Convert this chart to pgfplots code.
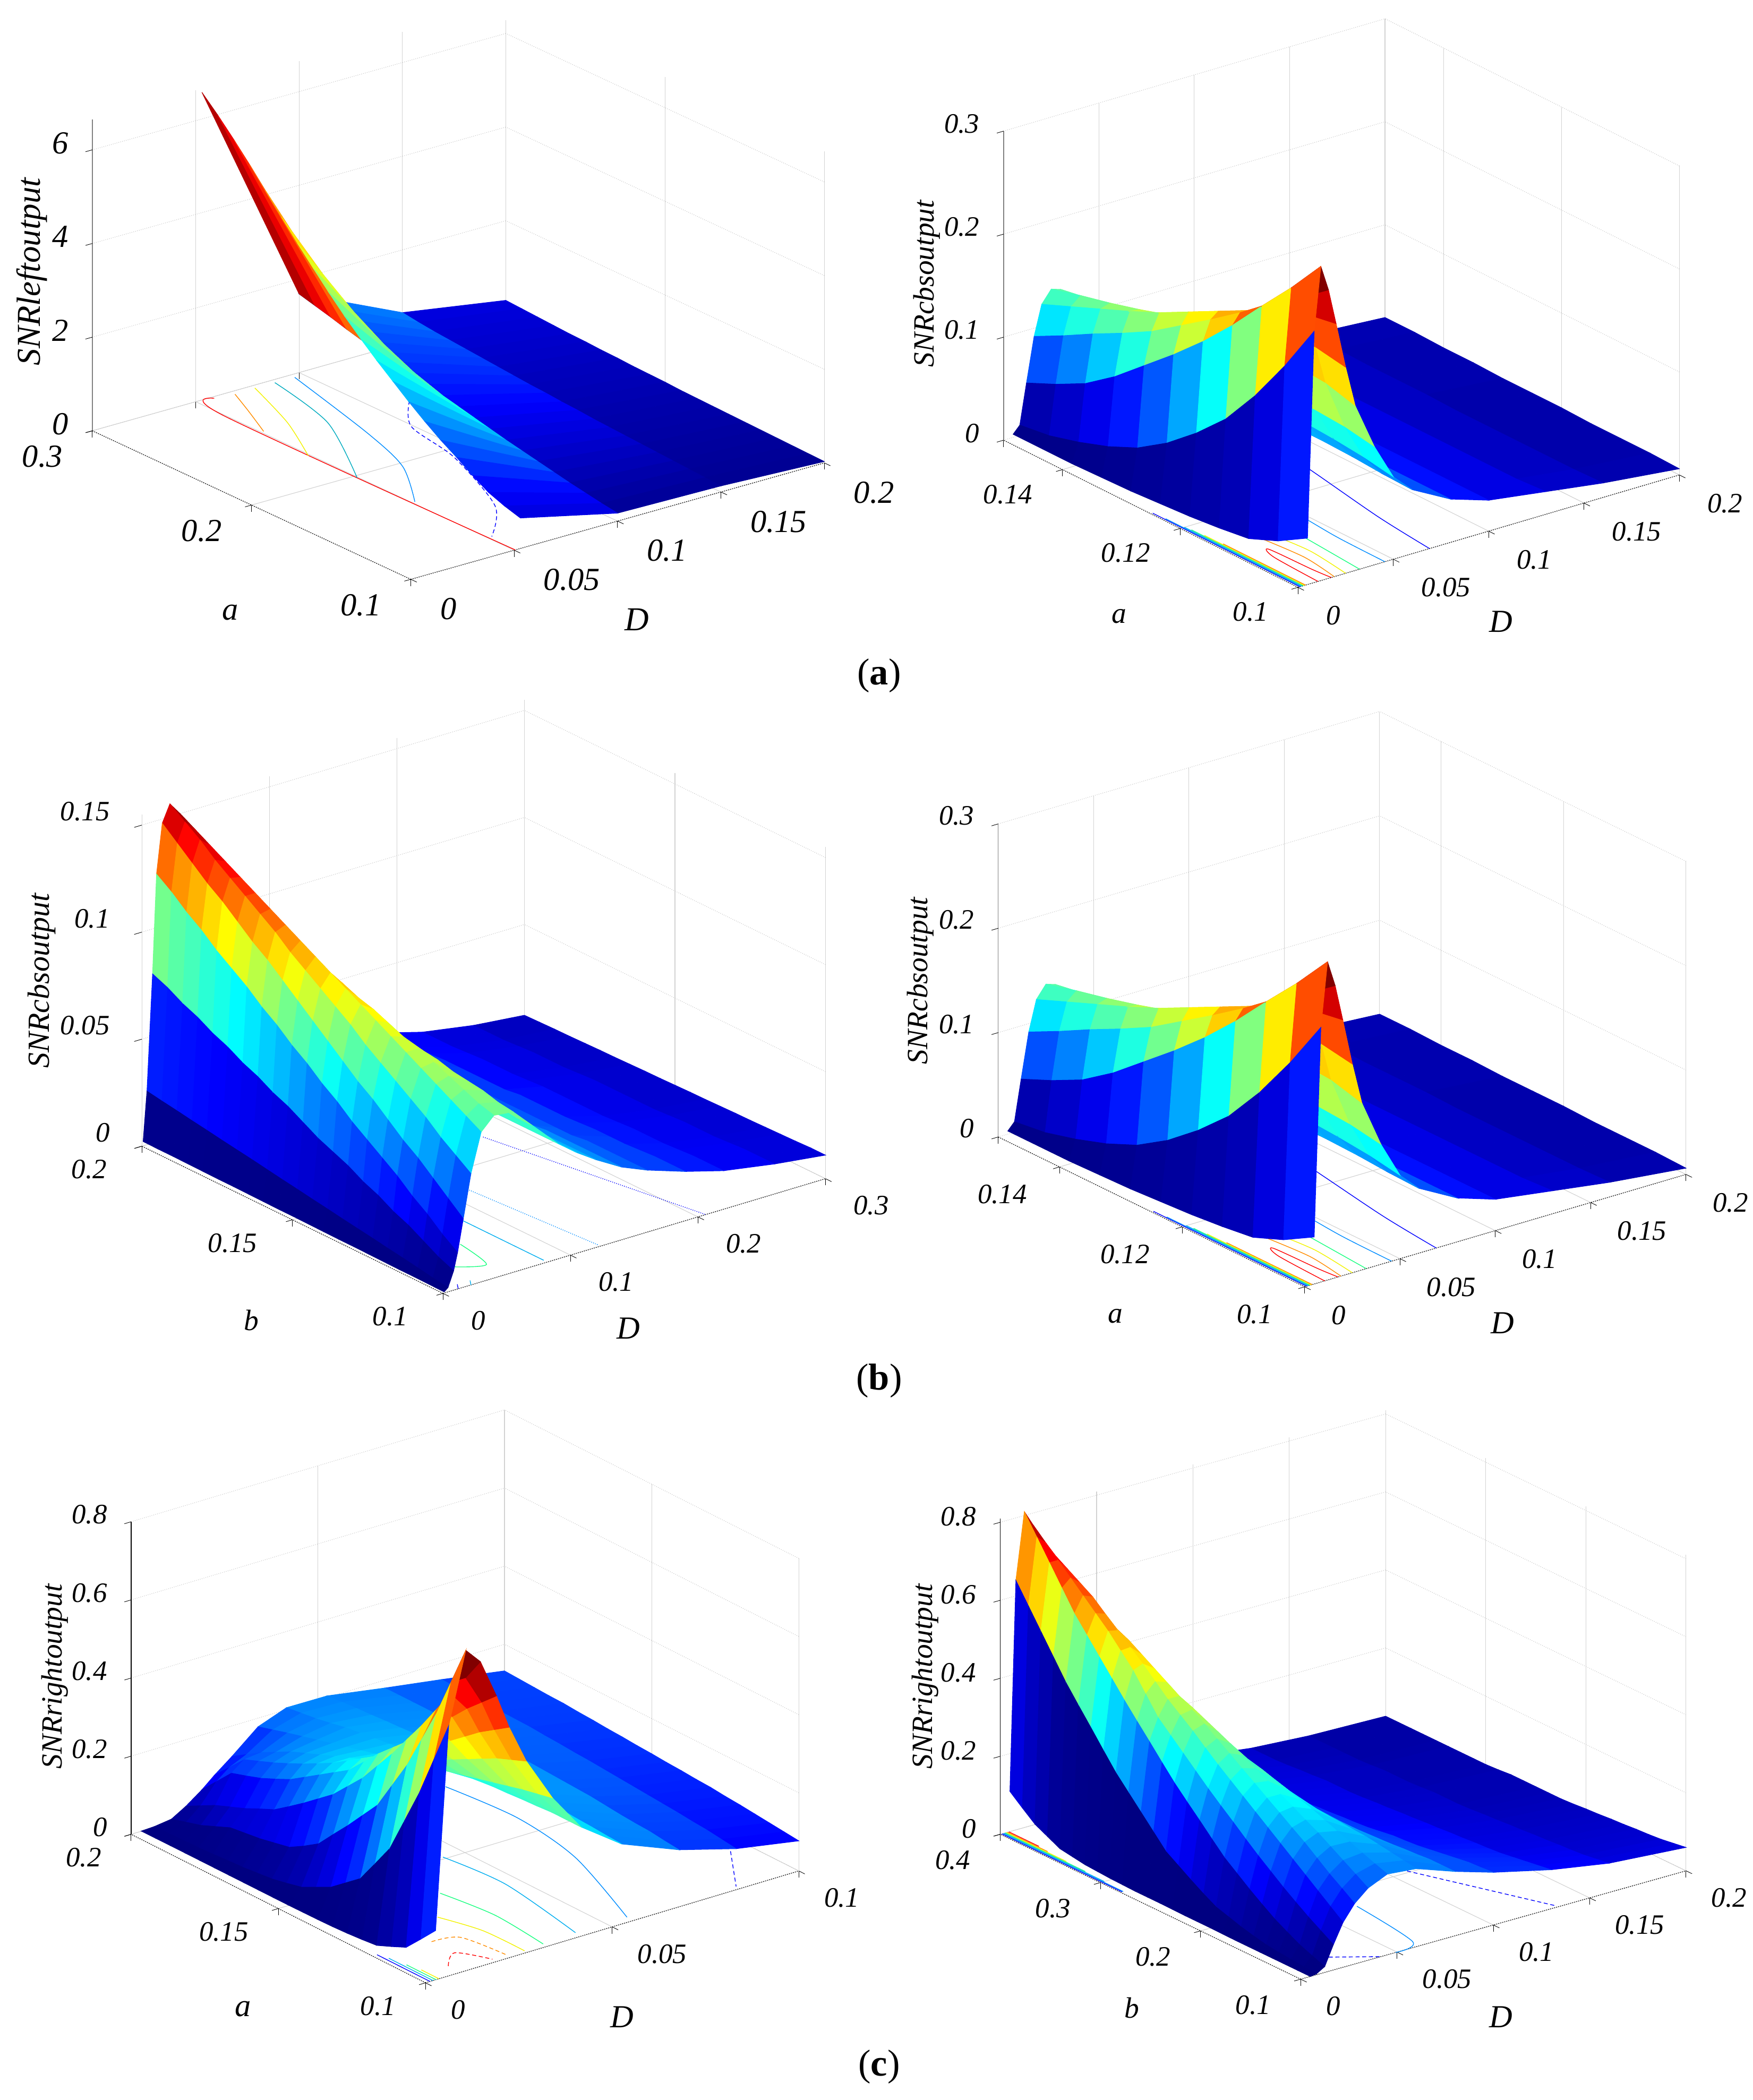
\documentclass[border=0pt]{standalone}
\usepackage{fontspec}
\setmainfont{Liberation Serif}
\usepackage{pgfplots}
\pgfplotsset{compat=1.18}
\pgfplotsset{colormap={myjet}{rgb255=(0,0,128) rgb255=(0,0,255) rgb255=(0,128,255) rgb255=(0,255,255) rgb255=(128,255,128) rgb255=(255,255,0) rgb255=(255,128,0) rgb255=(255,0,0) rgb255=(128,0,0)}}
\newcommand\mkgrid[3]{%
 \gdef\gridbuf{}%
 \foreach \dd [count=\ii] in {#2}{\expandafter\xdef\csname Dcol\ii\endcsname{\dd}}%
 \foreach \yy/\zl in {#3}{%
   \foreach \zz [count=\ii] in \zl {\xdef\gridbuf{\gridbuf (\csname Dcol\ii\endcsname,\yy,\zz)}}%
 }%
 \global\expandafter\let\csname #1\endcsname\gridbuf}
\mkgrid{gridA}{.053,.1,.15,.2}{
.1/{.65,.17,.13,.03},.11/{.75,.22,.15,.04},.12/{.88,.28,.17,.05},.13/{1.08,.34,.19,.06},.14/{1.31,.41,.21,.07},
.15/{1.52,.48,.23,.08},.16/{1.76,.55,.25,.09},.17/{2.02,.62,.27,.10},.18/{2.3,.7,.29,.11},.19/{2.58,.78,.32,.12},
.2/{2.88,.86,.34,.14},.21/{3.2,.94,.37,.15},.22/{3.55,1.02,.39,.16},.23/{3.92,1.1,.42,.18},.24/{4.3,1.18,.45,.19},
.25/{4.7,1.24,.48,.21},.26/{5.1,1.31,.51,.22},.27/{5.5,1.4,.54,.24},.28/{5.88,1.5,.57,.26},.29/{6.24,1.59,.61,.28},.3/{6.57,1.68,.66,.30}}
\mkgrid{gridB}{.005,.0085,.012,.016,.02,.025,.03,.04,.05,.06,.08,.1,.13,.16,.2}{
.1/{.045,.244,.305,.28,.245,.20,.16,.115,.08,.062,.042,.03,.022,.014,.006},
.105/{.028,.196,.27,.258,.24,.205,.168,.12,.085,.063,.042,.03,.02,.013,.007},
.11/{.016,.153,.238,.238,.228,.205,.17,.122,.088,.065,.042,.03,.02,.013,.007},
.115/{.012,.116,.205,.215,.215,.197,.17,.122,.09,.066,.042,.03,.02,.013,.007},
.12/{.009,.088,.175,.194,.20,.188,.165,.12,.09,.066,.042,.03,.02,.013,.008},
.125/{.007,.064,.148,.174,.185,.178,.158,.116,.088,.065,.042,.03,.02,.013,.008},
.13/{.005,.045,.123,.154,.17,.165,.15,.112,.086,.065,.042,.03,.02,.014,.008},
.135/{.004,.032,.098,.138,.157,.156,.145,.108,.085,.064,.042,.03,.02,.014,.009},
.14/{.003,.022,.077,.123,.145,.148,.14,.105,.083,.063,.042,.03,.02,.014,.009},
.145/{.003,.014,.062,.107,.133,.141,.135,.103,.082,.062,.041,.03,.02,.015,.01},
.15/{.003,.01,.049,.092,.121,.133,.13,.10,.08,.06,.04,.03,.02,.015,.01}}
\mkgrid{gridC}{.001,.004,.0084,.0115,.016,.022,.03,.04,.055,.07,.09,.105,.12,.14,.16,.19,.22,.26,.3}{
.1/{.0005,.002,.009,.017,.032,.052,.07,.076,.075,.066,.054,.047,.041,.034,.029,.023,.018,.014,.011},
.105/{.0006,.003,.012,.022,.038,.057,.074,.078,.076,.066,.054,.047,.041,.034,.029,.023,.018,.014,.011},
.11/{.0007,.0043,.016,.028,.044,.062,.078,.081,.078,.067,.054,.047,.041,.034,.029,.023,.018,.014,.0107},
.115/{.0007,.0055,.02,.033,.05,.068,.082,.084,.079,.067,.054,.047,.041,.034,.029,.0225,.0175,.0135,.0105},
.12/{.0008,.0066,.023,.039,.055,.073,.086,.087,.08,.068,.054,.047,.041,.034,.029,.022,.017,.013,.0103},
.125/{.0009,.0078,.027,.044,.061,.078,.09,.09,.082,.068,.054,.047,.041,.034,.028,.022,.017,.013,.0101},
.13/{.001,.0089,.03,.049,.067,.083,.094,.092,.083,.069,.054,.047,.041,.033,.028,.022,.017,.013,.01},
.135/{.001,.01,.034,.054,.072,.088,.098,.095,.084,.0695,.054,.047,.04,.033,.028,.0215,.0165,.0125,.0098},
.14/{.0011,.0112,.037,.06,.078,.094,.102,.098,.085,.07,.054,.047,.04,.033,.028,.021,.016,.012,.0096},
.145/{.0012,.0123,.04,.065,.084,.099,.106,.1,.087,.07,.054,.047,.04,.033,.028,.021,.016,.012,.0095},
.15/{.0013,.0135,.044,.071,.09,.104,.11,.103,.088,.0705,.0545,.047,.04,.033,.028,.021,.016,.012,.0093},
.155/{.0013,.0146,.048,.076,.096,.109,.114,.105,.089,.071,.055,.047,.04,.033,.028,.021,.016,.012,.0091},
.16/{.0014,.0158,.051,.082,.102,.114,.118,.108,.09,.071,.055,.047,.04,.033,.028,.02,.016,.012,.009},
.165/{.0015,.017,.055,.087,.108,.12,.122,.111,.092,.0715,.055,.047,.04,.033,.028,.02,.0155,.0115,.0088},
.17/{.0016,.0181,.058,.093,.113,.125,.126,.114,.093,.072,.055,.047,.04,.033,.028,.02,.015,.011,.0086},
.175/{.0016,.0192,.062,.098,.119,.13,.13,.116,.094,.0725,.055,.047,.04,.033,.0275,.02,.015,.011,.0085},
.18/{.0017,.0204,.065,.103,.125,.135,.134,.119,.095,.073,.055,.047,.04,.032,.027,.02,.015,.011,.0083},
.185/{.0018,.0215,.069,.109,.13,.14,.138,.122,.097,.0735,.055,.047,.04,.032,.027,.0195,.0145,.0105,.0081},
.19/{.0019,.0227,.072,.114,.136,.146,.142,.125,.098,.074,.055,.047,.04,.032,.027,.019,.014,.01,.008},
.195/{.0019,.0238,.076,.12,.142,.151,.146,.127,.099,.0745,.055,.047,.04,.032,.027,.019,.014,.01,.0078},
.2/{.002,.025,.079,.125,.148,.156,.15,.13,.10,.075,.055,.047,.04,.032,.027,.019,.014,.01,.0076}}
\mkgrid{gridE}{.0027,.0062,.0108,.0147,.019,.0224,.027,.034,.0416,.0525,.0679,.0832,.1}{
.1/{.126,.64,.82,.78,.68,.59,.49,.376,.28,.205,.146,.105,.077},
.105/{.085,.535,.72,.72,.645,.565,.475,.368,.28,.207,.15,.11,.081},
.11/{.045,.43,.62,.66,.61,.54,.46,.36,.28,.21,.155,.115,.085},
.115/{.028,.34,.535,.60,.57,.51,.44,.35,.277,.212,.157,.118,.089},
.12/{.012,.25,.45,.54,.53,.48,.42,.34,.275,.215,.16,.122,.093},
.125/{.008,.192,.38,.485,.49,.45,.40,.33,.272,.217,.164,.125,.096},
.13/{.005,.135,.31,.43,.45,.42,.38,.32,.27,.22,.168,.128,.10},
.135/{.003,.105,.265,.38,.415,.395,.36,.31,.267,.22,.17,.131,.102},
.14/{.002,.075,.22,.33,.38,.37,.34,.30,.265,.22,.172,.134,.105},
.145/{.0015,.056,.178,.29,.34,.345,.32,.29,.262,.22,.174,.137,.107},
.15/{.001,.037,.135,.25,.30,.32,.30,.28,.26,.22,.176,.14,.11},
.155/{.001,.028,.11,.22,.275,.295,.285,.27,.255,.22,.177,.142,.112},
.16/{.001,.02,.088,.19,.25,.27,.27,.26,.25,.22,.178,.145,.115},
.165/{.001,.016,.08,.162,.225,.25,.255,.25,.245,.22,.179,.147,.117},
.17/{.001,.012,.072,.135,.20,.23,.24,.24,.24,.22,.18,.15,.12},
.175/{.001,.01,.067,.118,.182,.212,.225,.23,.235,.217,.18,.151,.122},
.18/{.001,.007,.062,.10,.165,.195,.21,.22,.23,.215,.18,.152,.125},
.185/{.001,.005,.046,.085,.152,.18,.19,.21,.222,.212,.18,.153,.126},
.19/{.001,.004,.03,.07,.14,.165,.17,.20,.215,.21,.18,.155,.128},
.195/{.0007,.003,.019,.05,.10,.126,.146,.189,.21,.207,.18,.156,.13},
.2/{.0005,.002,.008,.03,.06,.088,.122,.178,.205,.204,.18,.158,.132}}
\mkgrid{gridF}{.005,.0081,.0125,.017,.022,.028,.035,.045,.06,.08,.1,.13,.16,.2}{
.1/{0,.002,.015,.065,.115,.155,.185,.207,.20,.165,.135,.10,.075,.06},
.1125/{0,.005,.027,.085,.14,.178,.205,.218,.205,.165,.132,.095,.07,.055},
.125/{0,.008,.04,.105,.165,.20,.225,.23,.21,.165,.13,.09,.065,.05},
.1375/{0,.011,.057,.127,.19,.225,.245,.243,.215,.162,.125,.085,.062,.047},
.15/{0,.015,.075,.15,.215,.25,.265,.255,.22,.16,.12,.08,.06,.045},
.1625/{0,.022,.097,.175,.24,.272,.282,.267,.222,.157,.115,.077,.057,.042},
.175/{0,.03,.12,.20,.265,.295,.30,.28,.225,.155,.11,.075,.055,.04},
.1875/{.0005,.04,.145,.227,.29,.317,.317,.29,.227,.152,.107,.072,.052,.037},
.2/{.001,.05,.17,.255,.315,.34,.335,.30,.23,.15,.105,.07,.05,.035},
.2125/{.001,.068,.202,.282,.34,.362,.352,.31,.232,.147,.1,.067,.047,.032},
.225/{.001,.088,.235,.31,.365,.385,.37,.32,.235,.145,.095,.065,.045,.03},
.2375/{.0015,.109,.267,.34,.392,.407,.385,.327,.235,.142,.092,.062,.042,.03},
.25/{.002,.13,.30,.37,.42,.43,.40,.335,.235,.14,.09,.06,.04,.03},
.2625/{.002,.165,.337,.40,.445,.45,.415,.342,.235,.137,.087,.057,.04,.03},
.275/{.002,.2,.375,.43,.47,.47,.43,.35,.235,.135,.085,.055,.04,.03},
.2875/{.003,.235,.412,.475,.50,.49,.442,.355,.232,.132,.082,.052,.037,.027},
.3/{.004,.27,.45,.52,.53,.51,.455,.36,.23,.13,.08,.05,.035,.025},
.3125/{.006,.312,.49,.555,.557,.53,.465,.365,.227,.125,.077,.05,.035,.025},
.325/{.008,.355,.53,.59,.585,.55,.475,.37,.225,.12,.075,.05,.035,.025},
.3375/{.013,.397,.57,.62,.612,.565,.482,.37,.222,.117,.072,.047,.032,.025},
.35/{.018,.44,.61,.65,.64,.58,.49,.37,.22,.115,.07,.045,.03,.025},
.3625/{.034,.49,.66,.68,.66,.59,.495,.367,.217,.11,.067,.042,.03,.025},
.375/{.05,.54,.71,.71,.68,.60,.50,.365,.215,.105,.065,.04,.03,.025},
.3875/{.076,.59,.76,.74,.70,.61,.50,.362,.212,.102,.062,.04,.03,.025},
.4/{.103,.64,.81,.77,.72,.62,.50,.36,.21,.10,.06,.04,.03,.025}}
\newcommand\SP[3]{\def\SPn{#1}\def\SPm{#2}\expandafter\SPi\expandafter{#3}}
\newcommand\SPi[1]{\addplot3[surf,shader=flat corner,z buffer=auto,mesh/cols=\SPn,mesh/ordering=x varies,point meta=z,point meta min=0,point meta max=\SPm,forget plot] coordinates {#1};}
\newcommand\CT[2]{\addplot3[#1,line width=.55pt,no marks,smooth,forget plot] coordinates {#2};}
\newcommand\ZT[3]{\addplot3[black,line width=.35pt,no marks,forget plot] coordinates {(-#1,#2,#3)(0,#2,#3)};}
\pgfplotsset{pan/.style={clip=false,colormap name=myjet,grid=major,tick align=outside,
  axis line style={draw=none},tick style={black,line width=.35pt},major tick length=5pt,
  x grid style={gray!35,line width=.45pt},y grid style={gray!35,line width=.45pt},
  z grid style={gray!45,line width=.45pt,densely dotted},
  xtick pos=lower,ytick pos=lower,ztick pos=left,ztick style={draw=none},
  scaled ticks=false}}
\newcommand\AX[1]{\CT{black,densely dotted}{#1}}
\definecolor{cbl}{rgb}{0,.55,1}
\definecolor{cgr}{rgb}{.1,1,.5}
\definecolor{cye}{rgb}{.95,.95,0}
\definecolor{cor}{rgb}{1,.55,0}
\newcommand\ctB{%
\CT{blue}{(.069,.1,0)(.073,.11,0)(.082,.125,0)(.09,.14,0)}
\CT{cbl}{(.0456,.1,0)(.046,.108,0)(.048,.115,0)(.052,.13,0)}
\CT{cgr}{(.0323,.1,0)(.035,.11,0)(.036,.115,0)}
\CT{cye}{(.025,.1,0)(.028,.107,0)(.026,.113,0)}
\CT{cor}{(.019,.1,0)(.022,.106,0)(.02,.113,0)}
\CT{red}{(.0175,.1,0)(.0165,.103,0)(.0155,.11,0)(.012,.108,0)(.0105,.1,0)}
\CT{blue}{(.001,.1,0)(.001,.125,0)}\CT{cbl}{(.0016,.1,0)(.0016,.123,0)}\CT{cyan}{(.0022,.1,0)(.0022,.12,0)}
\CT{cgr}{(.0028,.1,0)(.0028,.119,0)}\CT{cye}{(.0034,.1,0)(.0034,.117,0)}\CT{cor}{(.004,.1,0)(.004,.114,0)}}
\newcommand\LT[5]{\node[font=\fontsize{#1}{#1}\selectfont\itshape,rotate=#5] at (#2,{1569.6-#3}) {#4};}
\newcommand\PT[3]{\node[font=\fontsize{28}{28}\selectfont] at (#1,{1569.6-#2}) {(\textbf{#3})};}
\begin{document}
\begin{tikzpicture}[x=1pt,y=1pt]
\path[use as bounding box] (0,0) rectangle (1310,1569.6);
% ---- panel 1
\begin{axis}[pan,at={(307pt,{(1569.6-433)*1pt})},anchor=origin,x={(1545pt,435pt)},y={(-1190pt,555pt)},z={(0pt,35pt)},
 xmin=0,xmax=.2,ymin=.1,ymax=.3,zmin=0,zmax=6.65,
 xtick={0,.05,.1,.15,.2},xticklabels={0,0.05,0.1,0.15,0.2},ytick={.1,.2,.3},yticklabels={0.1,0.2,0.3},ztick={0,2,4,6},zticklabels={0,2,4,6},
 xticklabel style={font=\fontsize{24}{24}\selectfont\itshape,anchor=west,xshift=14pt,yshift=-20pt},
 yticklabel style={font=\fontsize{24}{24}\selectfont\itshape,anchor=east,xshift=-14pt,yshift=-18pt},
 zticklabel style={font=\fontsize{24}{24}\selectfont\itshape,anchor=east,xshift=-10pt,yshift=3pt}]
\AX{(0,.1,0)(.2,.1,0)}\AX{(0,.1,0)(0,.3,0)}\CT{gray}{(0,.3,0)(0,.3,6.65)}
\ZT{.0033}{.3}{0}\ZT{.0033}{.3}{2}\ZT{.0033}{.3}{4}\ZT{.0033}{.3}{6}
\CT{red}{(.0578,.2985,0)(.0494,.281,0)(.0505,.1,0)}
\CT{cor}{(.0667,.297,0)(.06,.28,0)(.0513,.259,0)}
\CT{cye}{(.0767,.2975,0)(.0641,.2606,0)(.049,.228,0)}
\CT{cyan!70!green}{(.0862,.2973,0)(.0762,.251,0)(.0495,.198,0)}
\CT{cbl}{(.0956,.297,0)(.0814,.2326,0)(.0705,.1966,0)(.0514,.1642,0)}
\CT{blue,densely dashed}{(.1152,.2504,0)(.0989,.228,0)(.0919,.1919,0)(.073,.1419,0)(.0521,.1168,0)}
\SP{4}{6.57}{\gridA}
\end{axis}
% ---- panel 2
\begin{axis}[pan,at={(970pt,{(1569.6-439)*1pt})},anchor=origin,x={(1425pt,420pt)},y={(-4400pt,2200pt)},z={(0pt,770pt)},
 xmin=0,xmax=.2,ymin=.1,ymax=.15,zmin=0,zmax=.3,
 xtick={0,.05,.1,.15,.2},xticklabels={0,0.05,0.1,0.15,0.2},ytick={.1,.12,.14},yticklabels={0.1,0.12,0.14},ztick={0,.1,.2,.3},zticklabels={0,0.1,0.2,0.3},
 xticklabel style={font=\fontsize{21}{21}\selectfont\itshape,anchor=west,xshift=13pt,yshift=-19pt},
 yticklabel style={font=\fontsize{21}{21}\selectfont\itshape,anchor=east,xshift=-14pt,yshift=-17pt},
 zticklabel style={font=\fontsize{21}{21}\selectfont\itshape,anchor=east,xshift=-10pt,yshift=3pt}]
\AX{(0,.1,0)(.2,.1,0)}\AX{(0,.1,0)(0,.15,0)}\CT{gray}{(0,.15,0)(0,.15,.3)}
\ZT{.0035}{.15}{0}\ZT{.0035}{.15}{.1}\ZT{.0035}{.15}{.2}\ZT{.0035}{.15}{.3}
\ctB
\SP{15}{.305}{\gridB}
\end{axis}
% ---- panel 3
\begin{axis}[pan,at={(331pt,{(1569.6-966.7)*1pt})},anchor=origin,x={(953pt,285.7pt)},y={(-2250pt,1100pt)},z={(0pt,1600pt)},
 xmin=0,xmax=.3,ymin=.1,ymax=.2,zmin=0,zmax=.155,
 xtick={0,.1,.2,.3},xticklabels={0,0.1,0.2,0.3},ytick={.1,.15,.2},yticklabels={0.1,0.15,0.2},ztick={0,.05,.1,.15},zticklabels={0,0.05,0.1,0.15},
 xticklabel style={font=\fontsize{21}{21}\selectfont\itshape,anchor=west,xshift=13pt,yshift=-18pt},
 yticklabel style={font=\fontsize{21}{21}\selectfont\itshape,anchor=east,xshift=-18pt,yshift=-16pt},
 zticklabel style={font=\fontsize{21}{21}\selectfont\itshape,anchor=east,xshift=-16pt,yshift=8pt}]
\AX{(0,.1,0)(.3,.1,0)}\AX{(0,.1,0)(0,.2,0)}
\ZT{.006}{.2}{0}\ZT{.006}{.2}{.05}\ZT{.006}{.2}{.1}\ZT{.006}{.2}{.15}
\CT{blue,densely dotted}{(.175,.1608,0)(.206,.1002,0)}
\CT{cbl,densely dotted}{(.1155,.1402,0)(.1236,.1008,0)}
\CT{cyan}{(.082,.128,0)(.0819,.1012,0)}
\CT{cgr}{(.0573,.1185,0)(.05,.1067,0)(.032,.1097,0)}
\CT{cyan}{(.022,.1,0)(.026,.102,0)}\CT{blue}{(.012,.1,0)(.016,.102,0)}
\SP{19}{.156}{\gridC}
\end{axis}
% ---- panel 4
\begin{axis}[pan,at={(975pt,{(1569.6-961.8)*1pt})},anchor=origin,x={(1425pt,420pt)},y={(-4580pt,2240pt)},z={(0pt,780pt)},
 xmin=0,xmax=.2,ymin=.1,ymax=.15,zmin=0,zmax=.3,
 xtick={0,.05,.1,.15,.2},xticklabels={0,0.05,0.1,0.15,0.2},ytick={.1,.12,.14},yticklabels={0.1,0.12,0.14},ztick={0,.1,.2,.3},zticklabels={0,0.1,0.2,0.3},
 xticklabel style={font=\fontsize{21}{21}\selectfont\itshape,anchor=west,xshift=12pt,yshift=-19pt},
 yticklabel style={font=\fontsize{21}{21}\selectfont\itshape,anchor=east,xshift=-16pt,yshift=-19pt},
 zticklabel style={font=\fontsize{21}{21}\selectfont\itshape,anchor=east,xshift=-10pt,yshift=4pt}]
\AX{(0,.1,0)(.2,.1,0)}\AX{(0,.1,0)(0,.15,0)}\CT{gray}{(0,.15,0)(0,.15,.3)}
\ZT{.0035}{.15}{0}\ZT{.0035}{.15}{.1}\ZT{.0035}{.15}{.2}\ZT{.0035}{.15}{.3}
\ctB
\SP{15}{.305}{\gridB}
\end{axis}
% ---- panel 5
\begin{axis}[pan,at={(318pt,{(1569.6-1482)*1pt})},anchor=origin,x={(2790pt,836pt)},y={(-2200pt,1110pt)},z={(0pt,292pt)},
 xmin=0,xmax=.1,ymin=.1,ymax=.2,zmin=0,zmax=.8,
 xtick={0,.05,.1},xticklabels={0,0.05,0.1},ytick={.1,.15,.2},yticklabels={0.1,0.15,0.2},ztick={0,.2,.4,.6,.8},zticklabels={0,0.2,0.4,0.6,0.8},
 xticklabel style={font=\fontsize{21}{21}\selectfont\itshape,anchor=west,xshift=11pt,yshift=-18pt},
 yticklabel style={font=\fontsize{21}{21}\selectfont\itshape,anchor=east,xshift=-14pt,yshift=-16pt},
 zticklabel style={font=\fontsize{21}{21}\selectfont\itshape,anchor=east,xshift=-10pt,yshift=3pt}]
\AX{(0,.1,0)(.1,.1,0)}\AX{(0,.1,0)(0,.2,0)}\CT{black}{(0,.2,0)(0,.2,.8)}
\ZT{.0018}{.2}{0}\ZT{.0018}{.2}{.2}\ZT{.0018}{.2}{.4}\ZT{.0018}{.2}{.6}\ZT{.0018}{.2}{.8}
\CT{cbl}{(.0687,.1803,0)(.0704,.158,0)(.0669,.1339,0)(.0557,.1022,0)}
\CT{cyan}{(.0448,.1509,0)(.0463,.1315,0)(.0419,.1022,0)}
\CT{cgr}{(.0323,.136,0)(.0342,.1198,0)(.0327,.1015,0)}
\CT{cye}{(.0239,.1262,0)(.027,.1148,0)(.0273,.101,0)}
\CT{cor,densely dashed}{(.0147,.1166,0)(.021,.1148,0)(.0229,.1017,0)}
\CT{red,densely dashed}{(.0094,.1042,0)(.0149,.109,0)(.0191,.1015,0)}
\CT{blue,densely dashed}{(.0951,.117,0)(.0843,.1014,0)}
\CT{blue}{(.0012,.1,0)(.0012,.118,0)}\CT{cyan}{(.002,.1,0)(.002,.115,0)}\CT{cgr}{(.0028,.1,0)(.0028,.11,0)}\CT{cye}{(.0036,.1,0)(.0036,.106,0)}
\SP{13}{.82}{\gridE}
\end{axis}
% ---- panel 6
\begin{axis}[pan,at={(972pt,{(1569.6-1479.3)*1pt})},anchor=origin,x={(1440pt,405pt)},y={(-748.3pt,361pt)},z={(0pt,291.5pt)},
 xmin=0,xmax=.2,ymin=.1,ymax=.4,zmin=0,zmax=.81,
 xtick={0,.05,.1,.15,.2},xticklabels={0,0.05,0.1,0.15,0.2},ytick={.1,.2,.3,.4},yticklabels={0.1,0.2,0.3,0.4},ztick={0,.2,.4,.6,.8},zticklabels={0,0.2,0.4,0.6,0.8},
 xticklabel style={font=\fontsize{21}{21}\selectfont\itshape,anchor=west,xshift=11pt,yshift=-18pt},
 yticklabel style={font=\fontsize{21}{21}\selectfont\itshape,anchor=east,xshift=-14pt,yshift=-18pt},
 zticklabel style={font=\fontsize{21}{21}\selectfont\itshape,anchor=east,xshift=-10pt,yshift=2pt}]
\AX{(0,.1,0)(.2,.1,0)}\AX{(0,.1,0)(0,.4,0)}\CT{black}{(0,.4,0)(0,.4,.81)}
\ZT{.0035}{.4}{0}\ZT{.0035}{.4}{.2}\ZT{.0035}{.4}{.4}\ZT{.0035}{.4}{.6}\ZT{.0035}{.4}{.8}
\CT{blue,densely dashed}{(.1084,.2024,0)(.1334,.1027,0)}
\CT{cbl}{(.068,.1747,0)(.0622,.1078,0)(.0493,.1,0)}
\CT{blue,densely dashed}{(.0242,.1185,0)(.0416,.1,0)}
\CT{blue}{(.0008,.28,0)(.0008,.4,0)}\CT{cbl}{(.0014,.28,0)(.0014,.4,0)}\CT{cyan}{(.002,.3,0)(.002,.4,0)}
\CT{cgr}{(.0026,.32,0)(.0026,.4,0)}\CT{cye}{(.0032,.34,0)(.0032,.4,0)}\CT{cor}{(.0038,.36,0)(.0038,.4,0)}\CT{red}{(.0045,.37,0)(.0045,.4,0)}
\SP{14}{.81}{\gridF}
\end{axis}
\fill[white] (0,{1569.6-15}) rectangle (650,1569.6);
\LT{24}{172}{458}{a}{0}\LT{25}{476}{463}{D}{0}\LT{25}{24}{203}{SNRleftoutput}{90}
\LT{22}{836.5}{460.6}{a}{0}\LT{24}{1121.7}{464.5}{D}{0}\LT{22}{692.4}{212}{SNRcbsoutput}{90}
\LT{22}{188}{987}{b}{0}\LT{24}{469.6}{993}{D}{0}\LT{23}{31}{733}{SNRcbsoutput}{90}
\LT{22}{833.5}{983.8}{a}{0}\LT{24}{1123}{989}{D}{0}\LT{22}{688}{733}{SNRcbsoutput}{90}
\LT{24}{181.5}{1501.4}{a}{0}\LT{24}{465}{1507.4}{D}{0}\LT{22}{41}{1253}{SNRrightoutput}{90}
\LT{22}{846}{1500.8}{b}{0}\LT{24}{1121.7}{1507.4}{D}{0}\LT{22}{691.5}{1253}{SNRrightoutput}{90}
\PT{657}{505}{a}\PT{657}{1032}{b}\PT{657}{1545}{c}
\end{tikzpicture}
\end{document}
